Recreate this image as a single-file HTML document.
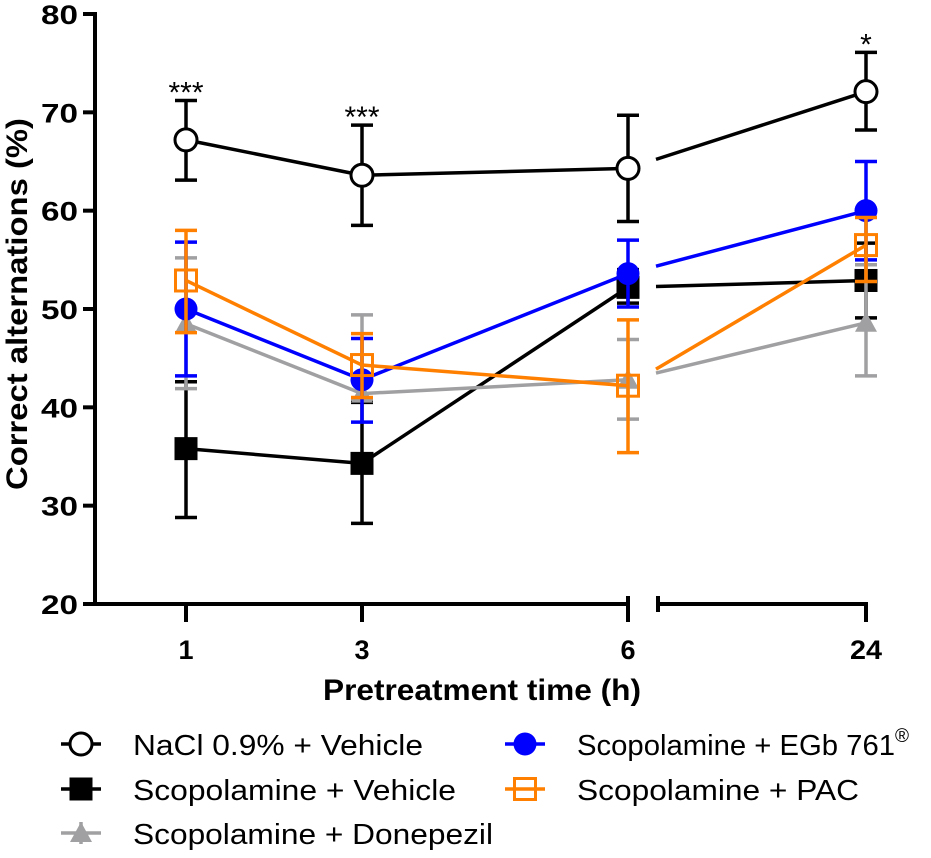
<!DOCTYPE html>
<html><head><meta charset="utf-8"><style>
html,body{margin:0;padding:0;background:#fff;}
svg{display:block;font-family:"Liberation Sans",Arial,sans-serif;}
</style></head><body>
<svg id="chart" width="931" height="858" viewBox="0 0 931 858">
<g id="axes"></g>
<g id="series"></g>
<g id="legend"></g>
</svg>
<script>
const categories = ["1","3","6","24"];
const yTicks = [20,30,40,50,60,70,80];
const seriesNames = ["NaCl 0.9% + Vehicle","Scopolamine + Vehicle","Scopolamine + Donepezil","Scopolamine + EGb 761","Scopolamine + PAC"];
const naclMean = [67.2,63.6,64.3,72.1];
const naclLo = [63.1,58.5,58.9,68.2];
const naclHi = [71.2,68.7,69.7,76.1];
const vehMean = [35.8,34.3,52.2,52.9];
const vehLo = [28.8,28.2,50.6,49.1];
const vehHi = [42.6,40.5,54.0,56.7];
const donMean = [48.5,41.4,42.8,48.6];
const donLo = [41.9,40.9,38.8,43.2];
const donHi = [55.2,49.4,46.9,54.5];
const egbMean = [50.0,42.8,53.6,60.0];
const egbLo = [43.2,38.5,50.2,55.0];
const egbHi = [56.8,47.0,57.0,65.0];
const pacMean = [52.9,44.3,42.2,56.5];
const pacLo = [47.6,41.0,35.4,52.8];
const pacHi = [58.0,47.5,48.9,59.3];
const stars = ["***","***","","*"];

const NS="http://www.w3.org/2000/svg";
const xPos = [186,362,628,866];
function xs(i){return xPos[i];}
function ys(v){return 604-(v-20)*(590/60);}
function mk(tag,attrs,parent){const e=document.createElementNS(NS,tag);for(const k in attrs)e.setAttribute(k,attrs[k]);parent.appendChild(e);return e;}
const axes=document.getElementById('axes'), sg=document.getElementById('series'), lg=document.getElementById('legend');

let ya=mk('line',{x1:95,y1:12,x2:95,y2:606,stroke:'#000','stroke-width':4},axes);


yTicks.forEach(t=>{
  let l=mk('line',{x1:83,y1:ys(t),x2:95,y2:ys(t),stroke:'#000','stroke-width':4},axes);
  
  
  let tx=mk('text',{x:78,y:ys(t)+10,'text-anchor':'end','font-size':27,'font-weight':'bold',textLength:37,lengthAdjust:'spacingAndGlyphs'},axes);
  tx.textContent=t;
  
  
});
let xa1=mk('path',{d:'M93 604 H628 M658 604 H868',stroke:'#000','stroke-width':4,fill:'none'},axes);


let br=mk('path',{d:'M628 596 V612 M658 596 V612',stroke:'#000','stroke-width':4},axes);


categories.forEach((c,i)=>{
  let l=mk('line',{x1:xs(i),y1:604,x2:xs(i),y2:622,stroke:'#000','stroke-width':4},axes);
  
  
  const a={x:xs(i),y:659,'text-anchor':'middle','font-size':27,'font-weight':'bold'};
  if(c.length>1){a.textLength=32;a.lengthAdjust='spacingAndGlyphs';}
  let tx=mk('text',a,axes);
  tx.textContent=c;
  
  
});
let xt=mk('text',{x:482,y:700,'text-anchor':'middle','font-size':30,'font-weight':'bold',textLength:318,lengthAdjust:'spacingAndGlyphs'},axes);
xt.textContent='Pretreatment time (h)';


let yt=mk('text',{x:0,y:0,'text-anchor':'middle','font-size':30,'font-weight':'bold',textLength:372,lengthAdjust:'spacingAndGlyphs',transform:'translate(27,304) rotate(-90)'},axes);
yt.textContent='Correct alternations (%)';



const series=[
 {m:naclMean,lo:naclLo,hi:naclHi,c:'#000',mk:'circle-open',n:'nacl'},
 {m:vehMean,lo:vehLo,hi:vehHi,c:'#000',mk:'square',n:'scop-vehicle'},
 {m:donMean,lo:donLo,hi:donHi,c:'#a0a0a2',mk:'triangle',n:'scop-donepezil'},
 {m:egbMean,lo:egbLo,hi:egbHi,c:'#0000ff',mk:'circle',n:'scop-egb'},
 {m:pacMean,lo:pacLo,hi:pacHi,c:'#ff8000',mk:'square-open',n:'scop-pac'}
];
function marker(type,x,y,c,parent){
  let e;
  if(type==='circle-open') e=mk('circle',{cx:x,cy:y,r:11,fill:'#fff',stroke:c,'stroke-width':3},parent);
  else if(type==='circle') e=mk('circle',{cx:x,cy:y,r:11.5,fill:c},parent);
  else if(type==='square') e=mk('rect',{x:x-11.5,y:y-11.5,width:23,height:23,fill:c},parent);
  else if(type==='square-open') e=mk('rect',{x:x-10.5,y:y-10.5,width:21,height:21,fill:'none',stroke:c,'stroke-width':3},parent);
  else e=mk('polygon',{points:`${x},${y-11} ${x+11},${y+9} ${x-11},${y+9}`,fill:c},parent);
  return e;
}
series.forEach(s=>{
  const g=mk('g',{},sg);
  
  
  s.m.forEach((v,i)=>{
    let eb=mk('path',{d:`M${xs(i)} ${ys(s.lo[i])} V${ys(s.hi[i])} M${xs(i)-11} ${ys(s.lo[i])} h22 M${xs(i)-11} ${ys(s.hi[i])} h22`,stroke:s.c,'stroke-width':3.5,fill:'none'},g);
    
    
  });
  for(let i=0;i<s.m.length-1;i++){
    let x1=xs(i),y1=ys(s.m[i]),x2=xs(i+1),y2=ys(s.m[i+1]);
    if(i===2){const t=(656-x1)/(x2-x1);y1=y1+(y2-y1)*t;x1=656;}
    let l=mk('line',{x1:x1,y1:y1,x2:x2,y2:y2,stroke:s.c,'stroke-width':3.5},g);
    
    
  }
  s.m.forEach((v,i)=>{
    let e=marker(s.mk,xs(i),ys(v),s.c,g);
    
    
  });
});
stars.forEach((st,i)=>{
  if(!st)return;
  let t=mk('text',{x:xs(i),y:ys(naclHi[i])+2,'text-anchor':'middle','font-size':30},axes);
  t.textContent=st;
  
  
});
const legendPos=[[81,744],[81,789],[81,833],[525,744],[525,789]];
const legendW=[290,323,360,318,282];
[0,1,2,3,4].forEach((k,j)=>{
  const s=series[k];const [x,y]=legendPos[j];
  const g=mk('g',{},lg);
  
  
  mk('line',{x1:x-20,y1:y,x2:x+20,y2:y,stroke:s.c,'stroke-width':3.5},g);
  if(s.mk!=='circle-open'&&s.mk!=='square-open')mk('line',{x1:x,y1:y-11,x2:x,y2:y+11,stroke:s.c,'stroke-width':3.5},g);
  marker(s.mk,x,y,s.c,g);
  let t=mk('text',{x:x+52,y:y+11,'font-size':29},g);
  let ts=mk('tspan',{textLength:legendW[j],lengthAdjust:'spacingAndGlyphs'},t);
  ts.textContent=seriesNames[k];
  if(k===3){let sup=mk('tspan',{'font-size':19,dy:-13},t);sup.textContent='®';}
});
</script>
</body></html>
